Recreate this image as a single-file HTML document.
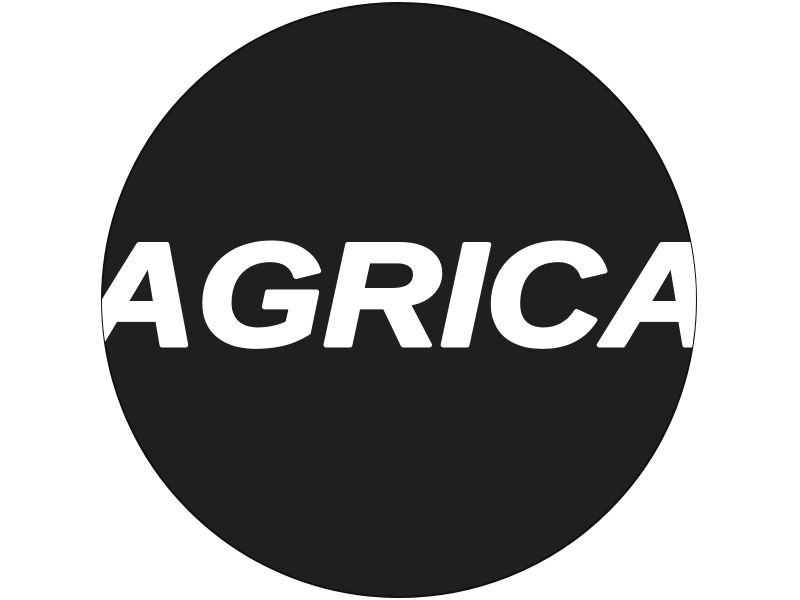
<!DOCTYPE html>
<html>
<head>
<meta charset="utf-8">
<style>
  html, body { margin: 0; padding: 0; background: #ffffff; }
  svg { display: block; }
</style>
</head>
<body>
<svg width="800" height="600" viewBox="0 0 800 600">
  <defs>
    <clipPath id="circleClip">
      <circle cx="399" cy="300" r="297"/>
    </clipPath>
  </defs>
  <circle cx="399" cy="300" r="297" fill="#1f1f1f" stroke="#111111" stroke-width="2"/>
  <g clip-path="url(#circleClip)">
    <text x="400" y="345" text-anchor="middle" textLength="640" lengthAdjust="spacingAndGlyphs"
          font-family="Liberation Sans, Arial, sans-serif" font-weight="bold" font-style="italic"
          font-size="146" fill="#ffffff" stroke="#ffffff" stroke-width="5" stroke-linejoin="round"
         >AGRICA</text>
  </g>
</svg>
</body>
</html>
